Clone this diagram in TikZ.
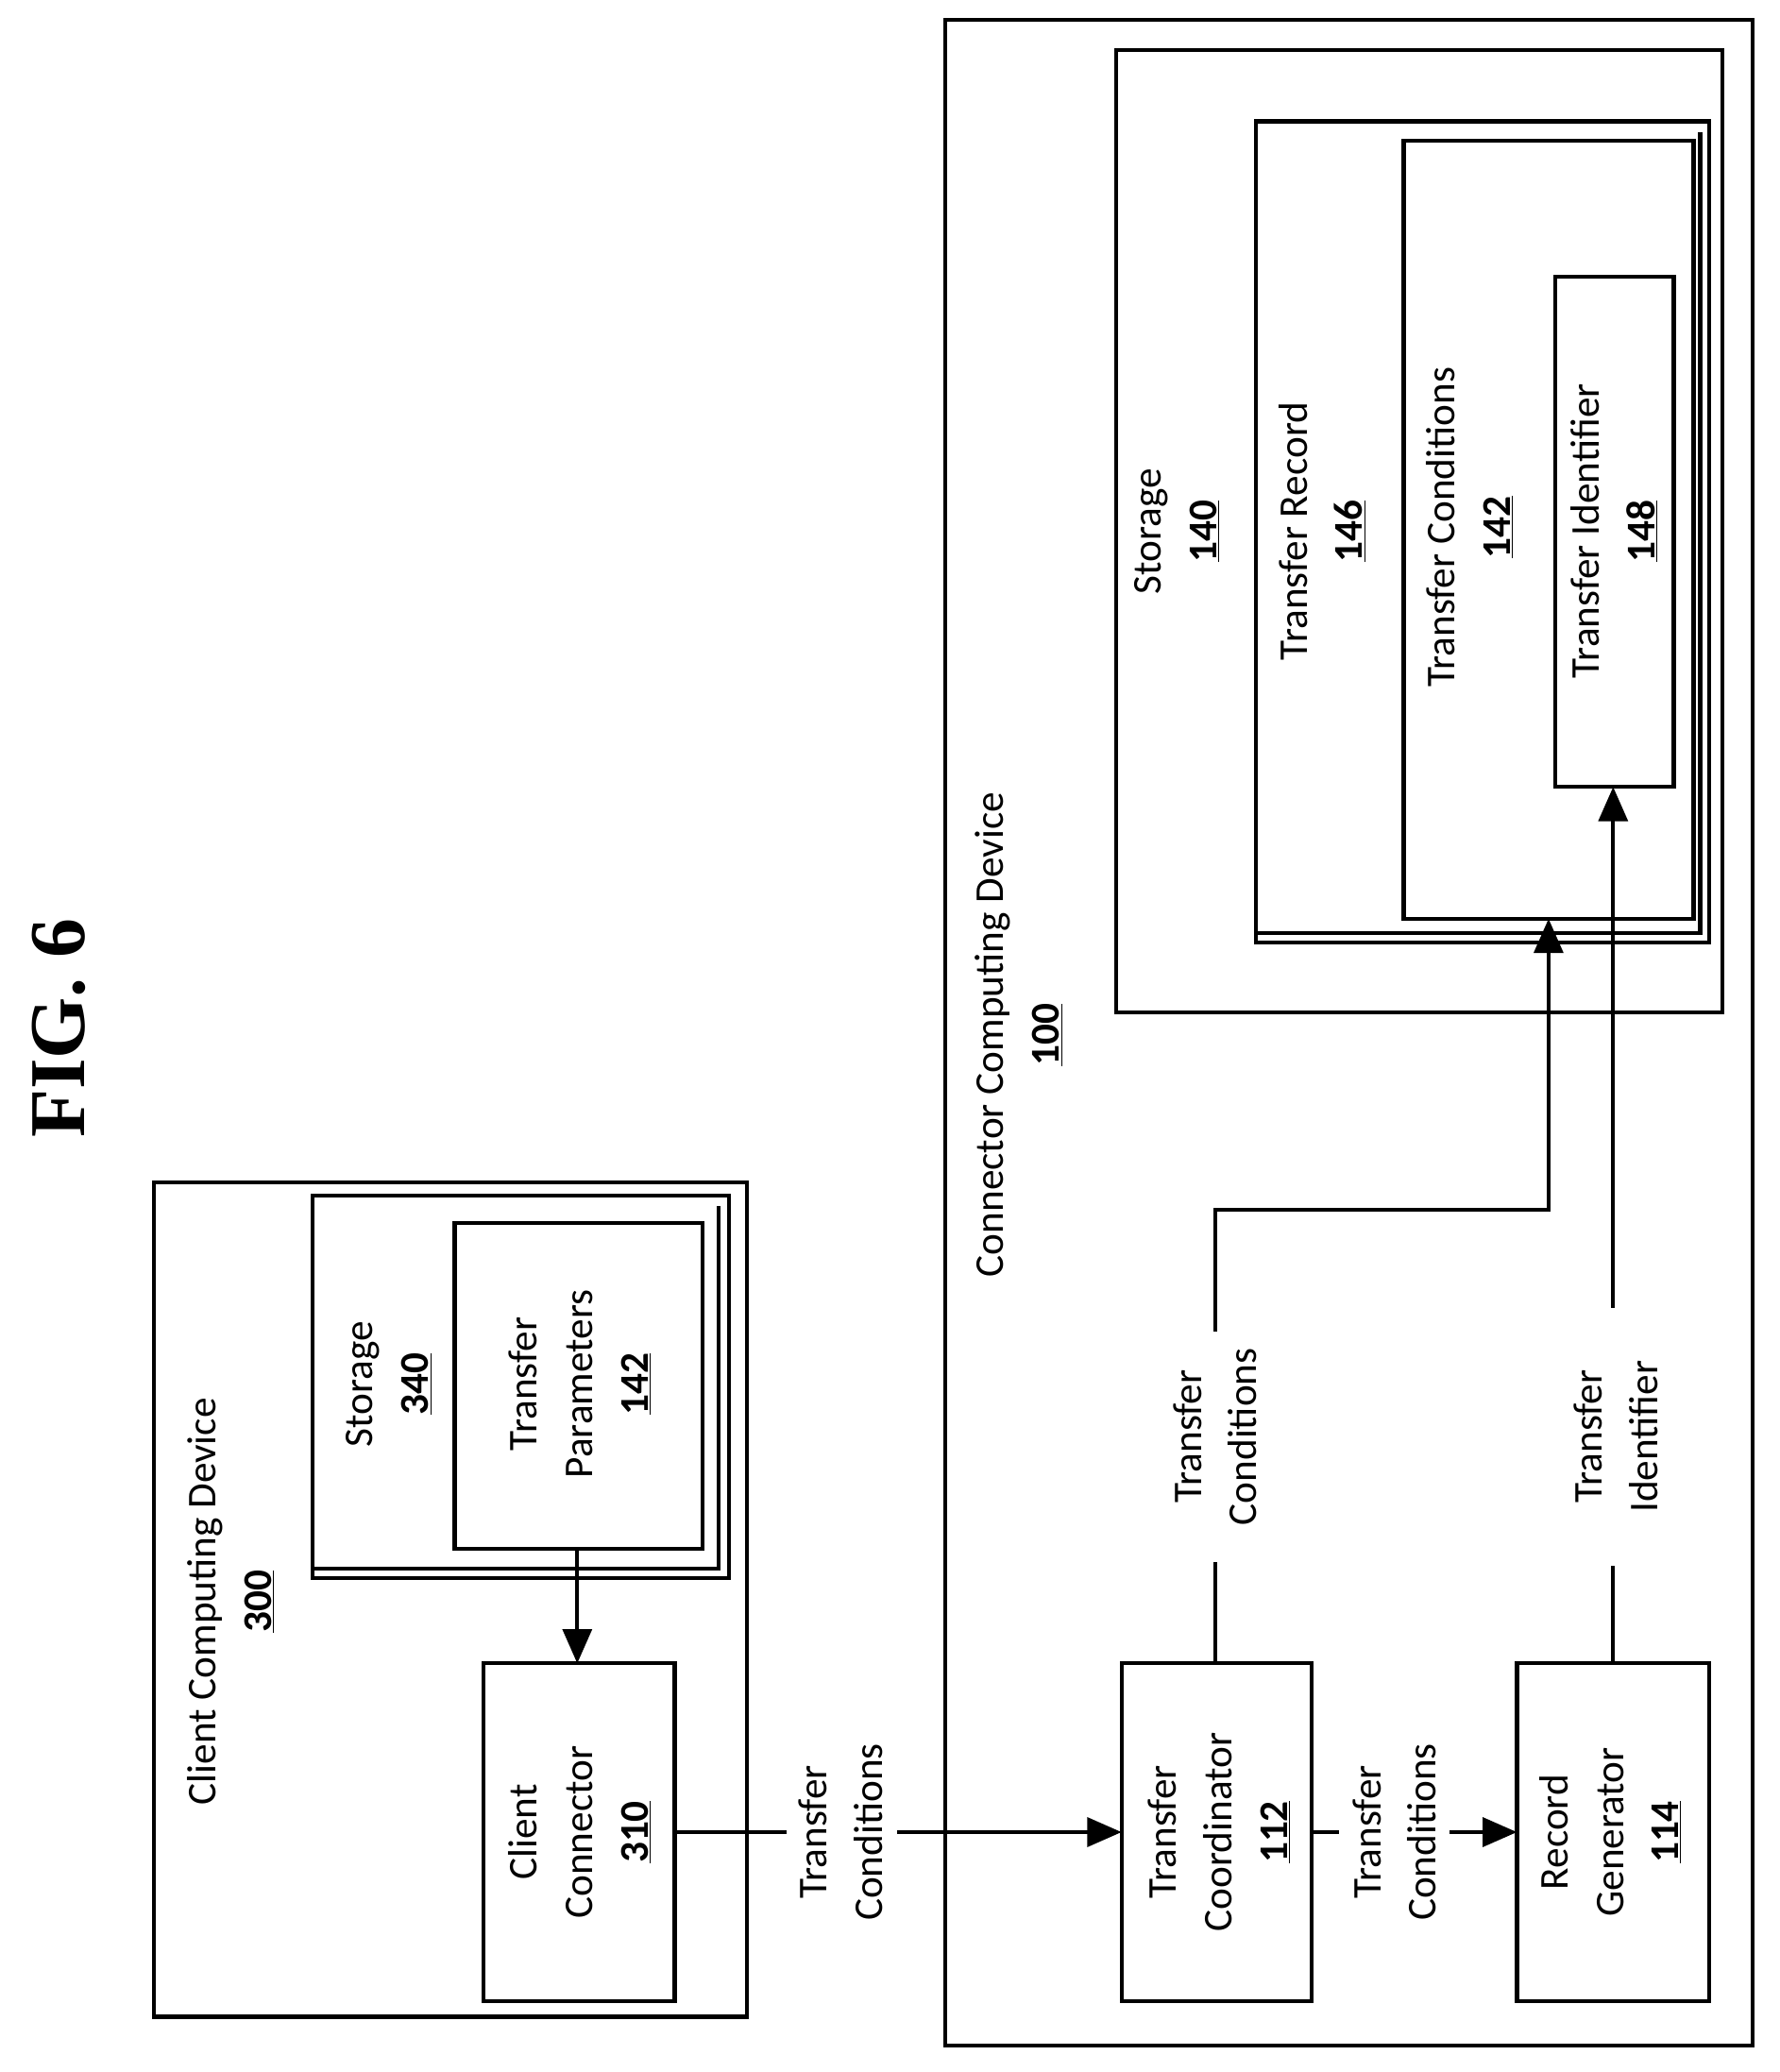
\documentclass[tikz,border=0pt]{standalone}
\usepackage{fontspec}
\setmainfont{Carlito}
\usetikzlibrary{arrows.meta}
\begin{document}
\begin{tikzpicture}[x=1pt,y=-1pt,line width=3pt,
 lbl/.style={rotate=90,align=center,font=\fontsize{31}{42}\selectfont,inner sep=0pt},
 arr/.style={-{Triangle[length=26pt,width=22pt]}}]
\useasboundingbox (0,0) rectangle (1350,1572);
\node[rotate=90,font=\fontsize{60}{60}\selectfont\bfseries\rmfamily] (fig) at (45,780) {\fontspec{Liberation Serif}FIG. 6};
% client
\draw (117,897) rectangle (567,1530);
\node[lbl] (ccd) at (175,1215) {Client Computing Device\\\underline{\textbf{300}}};
\draw (237,907) rectangle (553,1197);
\draw (545,915) -- (545,1190) -- (237,1190);
\node[lbl] (s340) at (295,1050) {Storage\\\underline{\textbf{340}}};
\draw (345,928) rectangle (533,1175);
\node[lbl] (tp) at (440,1050) {Transfer\\Parameters\\\underline{\textbf{142}}};
\draw (367,1262) rectangle (512,1518);
\node[lbl] (cc) at (440,1390) {Client\\Connector\\\underline{\textbf{310}}};
\coordinate (tpb) at (438,1175); \coordinate (cct) at (438,1262);
\draw[arr] (tpb) -- (cct);
% connector device
\draw (717,15) rectangle (1330,1552);
\node[lbl] (cdev) at (773,785) {Connector Computing Device\\\underline{\textbf{100}}};
\draw (847,38) rectangle (1307,768);
\node[lbl] (s140) at (893,403) {Storage\\\underline{\textbf{140}}};
\draw (953,92) rectangle (1297,715);
\draw (1290,100) -- (1290,708) -- (953,708);
\node[lbl] (tr) at (1003,403) {Transfer Record\\\underline{\textbf{146}}};
\draw (1065,107) rectangle (1285,697);
\node[lbl] (tc) at (1115,400) {Transfer Conditions\\\underline{\textbf{142}}};
\draw (1180,210) rectangle (1270,597);
\node[lbl] (ti) at (1225,403) {Transfer Identifier\\\underline{\textbf{148}}};
\draw (851,1262) rectangle (995,1518);
\node[lbl] (tco) at (925,1390) {Transfer\\Coordinator\\\underline{\textbf{112}}};
\draw (1151,1262) rectangle (1297,1518);
\node[lbl] (rg) at (1222,1390) {Record\\Generator\\\underline{\textbf{114}}};
% connectors
\node[lbl] (l1) at (638,1390) {Transfer\\Conditions};
\draw (512,1390) -- (597,1390);
\coordinate (a1) at (681,1390); \coordinate (a1e) at (851,1390);
\draw[arr] (a1) -- (a1e);
\node[lbl] (l2) at (1058,1390) {Transfer\\Conditions};
\draw (995,1390) -- (1016,1390);
\coordinate (a2) at (1100,1390); \coordinate (a2e) at (1151,1390);
\draw[arr] (a2) -- (a2e);
\node[lbl] (l3) at (922,1090) {Transfer\\Conditions};
\draw (922,1262) -- (922,1185);
\coordinate (b1) at (922,1010); \coordinate (b1e) at (1175,697);
\draw[arr] (b1) -- (922,918) -- (1175,918) -- (b1e);
\node[lbl] (l4) at (1226,1090) {Transfer\\Identifier};
\draw (1224,1262) -- (1224,1188);
\coordinate (c1) at (1224,992); \coordinate (c1e) at (1224,597);
\draw[arr] (c1) -- (c1e);
\end{tikzpicture}
\end{document}
